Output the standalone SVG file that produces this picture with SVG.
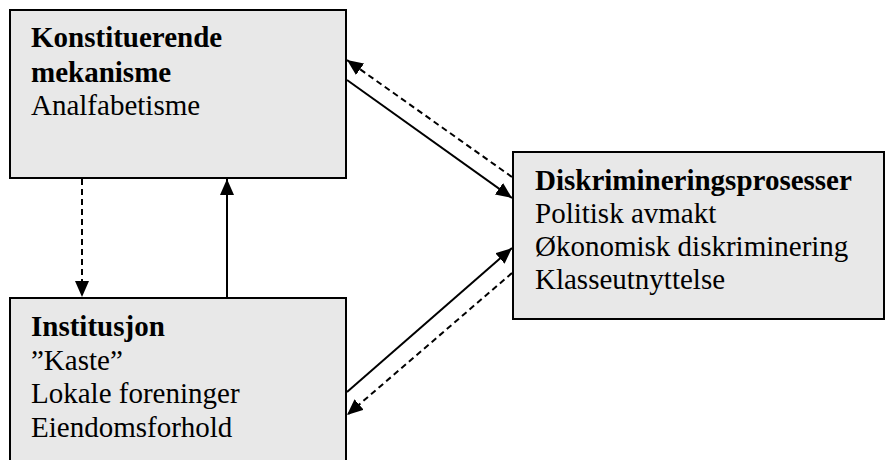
<svg xmlns="http://www.w3.org/2000/svg" width="887" height="460" viewBox="0 0 887 460">
<style>
.box{fill:#e8e8e8;stroke:#000;stroke-width:2}
.t{font-family:"Liberation Serif","Times New Roman",serif;font-size:29px;fill:#000}
.b{font-weight:bold}
.c{fill:none;stroke:#000;stroke-width:2}
.d{stroke-dasharray:6 4}
</style>
<defs>
<marker id="ah" viewBox="0 0 16 14" refX="16" refY="7" markerWidth="16" markerHeight="14" markerUnits="userSpaceOnUse" orient="auto">
<path d="M0,0 L16,7 L0,14 Z" fill="#000"/>
</marker>
</defs>
<rect width="887" height="460" fill="#fff"/>
<g id="node-konstituerende">
<rect class="box" x="10" y="10" width="336" height="168"/>
<text class="t b" x="31" y="47">Konstituerende</text>
<text class="t b" x="31" y="82">mekanisme</text>
<text class="t" x="31" y="115">Analfabetisme</text>
</g>
<g id="node-institusjon">
<rect class="box" x="10" y="298" width="336" height="170"/>
<text class="t b" x="31" y="336">Institusjon</text>
<text class="t" x="31" y="370">”Kaste”</text>
<text class="t" x="31" y="403">Lokale foreninger</text>
<text class="t" x="31" y="437">Eiendomsforhold</text>
</g>
<g id="node-diskriminering">
<rect class="box" x="513" y="152" width="371" height="167"/>
<text class="t b" x="535" y="190">Diskrimineringsprosesser</text>
<text class="t" x="535" y="223">Politisk avmakt</text>
<text class="t" x="535" y="256">Økonomisk diskriminering</text>
<text class="t" x="535" y="289">Klasseutnyttelse</text>
</g>
<g id="connectors">
<line class="c d" x1="82" y1="179" x2="82" y2="297" marker-end="url(#ah)"/>
<line class="c" x1="227" y1="297" x2="227" y2="179" marker-end="url(#ah)"/>
<line class="c" x1="347" y1="80" x2="512" y2="198" marker-end="url(#ah)"/>
<line class="c d" x1="512" y1="177" x2="347" y2="60" marker-end="url(#ah)"/>
<line class="c" x1="347" y1="392" x2="512" y2="248" marker-end="url(#ah)"/>
<line class="c d" x1="512" y1="273" x2="347" y2="415" marker-end="url(#ah)"/>
</g>
</svg>
